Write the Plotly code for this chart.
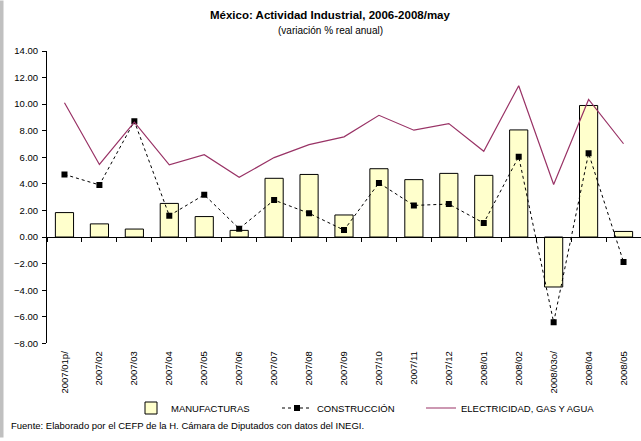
"""México: Actividad Industrial - bar + lines chart."""

import plotly.graph_objects as go

periods = [
    "2007/01p/", "2007/02", "2007/03", "2007/04", "2007/05", "2007/06",
    "2007/07", "2007/08", "2007/09", "2007/10", "2007/11", "2007/12",
    "2008/01", "2008/02", "2008/03o/", "2008/04", "2008/05",
]
manufacturas = [1.84, 0.99, 0.60, 2.53, 1.54, 0.50, 4.42, 4.71, 1.66,
                5.14, 4.32, 4.79, 4.64, 8.06, -3.76, 9.90, 0.42]
construccion = [4.71, 3.92, 8.71, 1.61, 3.18, 0.63, 2.78, 1.79, 0.52,
                4.07, 2.38, 2.48, 1.05, 6.05, -6.42, 6.30, -1.88]
electricidad = [10.10, 5.46, 8.64, 5.43, 6.20, 4.49, 5.98, 6.95, 7.54,
                9.16, 8.04, 8.54, 6.45, 11.39, 3.95, 10.35, 7.02]
y_ticks = [-8, -6, -4, -2, 0, 2, 4, 6, 8, 10, 12, 14]

FONT = "Liberation Sans, Arial, sans-serif"
W, H = 641, 441
L, R, T, B = 47, 0, 51, 95
PW, PH = W - L - R, H - T - B


def px_x(x):
    return (x - L) / PW


def px_y(y):
    return (H - B - y) / PH


def legend_box(left):
    # one small legend per series so each entry sits where the original has it
    return dict(
        orientation="h",
        xref="container", yref="container",
        x=left / W, xanchor="left",
        y=1 - 408 / H, yanchor="middle",
        font=dict(size=9.5),
        bgcolor="rgba(0,0,0,0)",
    )


fig = go.Figure()
fig.add_trace(go.Bar(
    name="MANUFACTURAS",
    x=periods,
    y=manufacturas,
    width=0.52,
    marker=dict(color="#FFFFCC", line=dict(color="#000000", width=1)),
    legend="legend",
))
fig.add_trace(go.Scatter(
    name="CONSTRUCCIÓN",
    x=periods,
    y=construccion,
    mode="lines+markers",
    line=dict(color="#000000", width=1, dash="dot"),
    marker=dict(symbol="square", size=6, color="#000000"),
    legend="legend2",
))
fig.add_trace(go.Scatter(
    name="ELECTRICIDAD, GAS Y AGUA",
    x=periods,
    y=electricidad,
    mode="lines",
    line=dict(color="#993366", width=1.2),
    legend="legend3",
))
# helper trace so the zero-level category axis gets drawn
fig.add_trace(go.Scatter(
    x=periods, y=[None] * len(periods), xaxis="x2",
    showlegend=False, hoverinfo="skip", mode="lines",
))

fig.update_layout(
    width=W,
    height=H,
    margin=dict(l=L, r=R, t=T, b=B, pad=0),
    paper_bgcolor="#FFFFFF",
    plot_bgcolor="#FFFFFF",
    font=dict(family=FONT, size=9.5, color="#000000"),
    showlegend=True,
    legend=legend_box(131),
    legend2=legend_box(277),
    legend3=legend_box(421),
    xaxis=dict(
        type="category",
        categoryorder="array", categoryarray=periods,
        range=[-0.5, len(periods) - 0.5],
        showline=False, showgrid=False, zeroline=False,
        ticks="", tickangle=-90,
        tickfont=dict(size=9.5),
        ticklabelstandoff=5,
    ),
    xaxis2=dict(
        type="category",
        categoryorder="array", categoryarray=periods,
        overlaying="x", anchor="free",
        position=(0 - y_ticks[0]) / (y_ticks[-1] - y_ticks[0]),
        matches="x",
        showline=True, linecolor="#000000", linewidth=1,
        showgrid=False, zeroline=False,
        ticks="outside", ticklen=4, tickcolor="#000000",
        tickson="boundaries",
        showticklabels=False,
    ),
    yaxis=dict(
        range=[y_ticks[0], y_ticks[-1]],
        tickvals=y_ticks, tickformat=".2f",
        showline=True, linecolor="#000000", linewidth=1,
        showgrid=False, zeroline=False,
        ticks="outside", ticklen=4, tickcolor="#000000",
        tickfont=dict(size=9.5),
        ticklabelstandoff=2,
    ),
)

fig.add_annotation(
    text="<b>México: Actividad Industrial, 2006-2008/may</b>",
    xref="paper", yref="paper", x=px_x(330), y=px_y(15),
    xanchor="center", yanchor="middle", showarrow=False,
    font=dict(size=11.5),
)
fig.add_annotation(
    text="(variación % real anual)",
    xref="paper", yref="paper", x=px_x(330), y=px_y(30),
    xanchor="center", yanchor="middle", showarrow=False,
    font=dict(size=10),
)
fig.add_annotation(
    text="Fuente: Elaborado por el CEFP de la H. Cámara de Diputados con datos del INEGI.",
    xref="paper", yref="paper", x=px_x(9), y=px_y(429),
    xanchor="left", yanchor="middle", showarrow=False,
    font=dict(size=9.5),
)

# grey strip on the left edge of the picture
fig.add_shape(
    type="rect", xref="paper", yref="paper",
    x0=px_x(0), x1=px_x(3.5), y0=px_y(H), y1=px_y(0),
    fillcolor="#C0C0C0", line=dict(width=0), layer="below",
)

fig.write_html(
    "out.html",
    config={"displayModeBar": False},
    post_script="document.body.style.margin='0';",
)
